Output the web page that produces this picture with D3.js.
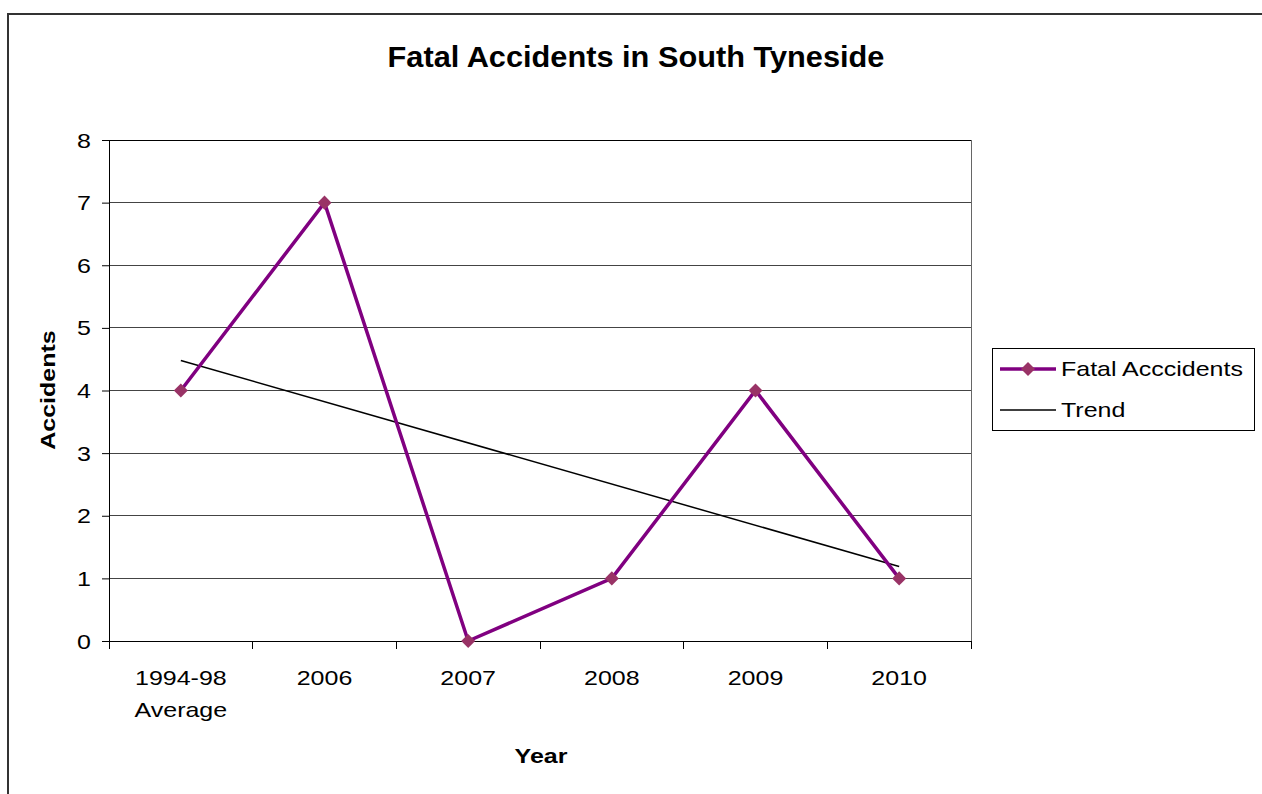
<!DOCTYPE html>
<html><head><meta charset="utf-8">
<script src="https://cdn.jsdelivr.net/npm/d3@7"></script>
<style>body{margin:0;background:#fff}svg{display:block}text{font-family:"Liberation Sans",Arial,sans-serif}</style>
</head><body>
<svg id="c" width="1262" height="794"></svg>
<script>
const categories = ["1994-98\nAverage","2006","2007","2008","2009","2010"];
const fatalAccidents = [4,7,0,1,4,1];
const trendEnds = [4.48,1.19];
const yTicks = [0,1,2,3,4,5,6,7,8];
const title = "Fatal Accidents in South Tyneside";
const SX = 1.19, FS = 21;
const svg = d3.select("#c");
svg.append("rect").attr("x",0).attr("y",0).attr("width",1262).attr("height",794).attr("fill","#fff");
svg.append("path").attr("d","M8,800V14H1270").attr("fill","none").attr("stroke","#333").attr("stroke-width",2);
const L=109,R=971,T=140,B=641;
const x=d3.scaleBand().domain(d3.range(categories.length)).range([L,R]);
const y=d3.scaleLinear().domain([0,8]).range([B,T]);
const cx=i=>x(i)+x.bandwidth()/2;
function label(g,tx,ty,txt,opts={}){
  const t=g.append("text").attr("transform",`translate(${tx},${ty})${opts.rot?" rotate(-90)":""} scale(${opts.sx||SX},1)`)
    .attr("font-size",opts.fs||FS).attr("text-anchor",opts.anchor||"middle").attr("fill","#000").text(txt);
  if(opts.bold) t.attr("font-weight","bold");
  return t;
}
// gridlines
svg.append("g").selectAll("line").data(yTicks).join("line")
 .attr("x1",L).attr("x2",R).attr("y1",d=>y(d)).attr("y2",d=>y(d)).attr("stroke",d=>d===8?"#000":"#444").attr("stroke-width",1).attr("shape-rendering","crispEdges");
svg.append("line").attr("x1",R).attr("x2",R).attr("y1",T).attr("y2",B).attr("stroke","#666").attr("shape-rendering","crispEdges");
// y axis
const ya=svg.append("g").attr("transform",`translate(${L},0)`).call(d3.axisLeft(y).tickValues(yTicks).tickSize(7).tickFormat(""));
ya.select(".domain").attr("stroke","#000");
ya.selectAll("line").attr("stroke","#000");
const yl=svg.append("g");
yTicks.forEach(v=>label(yl,91,y(v)+7.5,d3.format("d")(v),{anchor:"end"}));
// x axis
svg.append("line").attr("x1",L).attr("x2",R).attr("y1",B).attr("y2",B).attr("stroke","#000").attr("shape-rendering","crispEdges");
const bounds=d3.range(categories.length+1).map(i=>i<categories.length?x(i):R);
svg.append("g").selectAll("line").data(bounds).join("line").attr("x1",d=>d).attr("x2",d=>d).attr("y1",B).attr("y2",B+8).attr("stroke","#000").attr("shape-rendering","crispEdges");
const xg=svg.append("g");
categories.forEach((c,i)=>c.split("\n").forEach((s,k)=>label(xg,cx(i),685+k*32,s)));
// trend
svg.append("line").attr("x1",cx(0)).attr("x2",cx(categories.length-1)).attr("y1",y(trendEnds[0])).attr("y2",y(trendEnds[1])).attr("stroke","#000").attr("stroke-width",1.5);
// series
svg.append("path").datum(fatalAccidents).attr("fill","none").attr("stroke","#800080").attr("stroke-width",3.5)
 .attr("d",d3.line().x((d,i)=>cx(i)).y(d=>y(d)));
const sym=d3.symbol().type(d3.symbolDiamond2).size(125);
svg.append("g").selectAll("path").data(fatalAccidents).join("path").attr("d",sym)
 .attr("transform",(d,i)=>`translate(${cx(i)},${y(d)})`).attr("fill","#993366");
// titles
label(svg,636,67,title,{fs:29,sx:1.06,bold:true});
label(svg,541,763,"Year",{bold:true});
label(svg,55,390,"Accidents",{bold:true,rot:true});
// legend
const lg=svg.append("g");
lg.append("rect").attr("x",992.5).attr("y",348.5).attr("width",262).attr("height",82).attr("fill","#fff").attr("stroke","#000");
lg.append("line").attr("x1",1000).attr("x2",1056).attr("y1",369).attr("y2",369).attr("stroke","#800080").attr("stroke-width",3.5);
lg.append("path").attr("d",sym).attr("transform","translate(1028,369)").attr("fill","#993366");
label(lg,1061,376,"Fatal Acccidents",{anchor:"start"});
lg.append("line").attr("x1",1000).attr("x2",1056).attr("y1",410).attr("y2",410).attr("stroke","#000").attr("stroke-width",1.5);
label(lg,1061,417,"Trend",{anchor:"start"});
</script>
</body></html>
